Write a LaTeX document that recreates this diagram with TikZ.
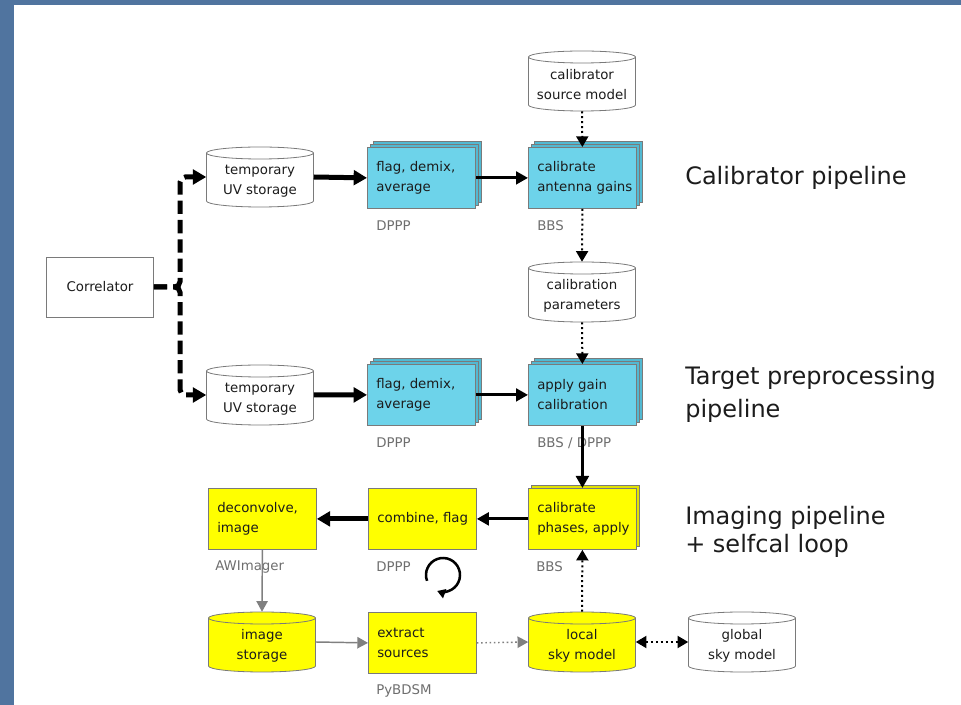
\documentclass[tikz,border=0pt]{standalone}
\usepackage{fontspec}
\setmainfont{DejaVu Sans}
\usetikzlibrary{arrows.meta,calc}

\definecolor{frameblue}{HTML}{50749F}
\definecolor{boxcyan}{HTML}{6DD3EA}
\definecolor{backcyan}{HTML}{52B9D2}
\definecolor{boxyellow}{HTML}{FFFF00}
\definecolor{backyellow}{HTML}{E2E200}
\definecolor{edgegray}{HTML}{7A7A7A}
\definecolor{labelgray}{HTML}{6E6E6E}
\definecolor{arrowgray}{HTML}{808080}
\definecolor{txt}{HTML}{1C1C1C}

\tikzset{
  boxshape/.style={draw=edgegray, line width=0.6pt, minimum width=81pt, minimum height=45.75pt, inner sep=0pt},
  layer/.style={draw=edgegray, line width=0.5pt},
  boxtext/.style={inner sep=0pt, align=left, text=txt, font=\fontsize{10}{15}\selectfont},
  cylline/.style={draw=edgegray, line width=0.6pt},
  cylbox/.style={minimum width=80.25pt, minimum height=45pt, inner sep=0pt},
  cyltext/.style={inner sep=0pt, align=center, text=txt, font=\fontsize{10}{15}\selectfont},
  toollabel/.style={inner sep=0pt, anchor=west, text=labelgray, font=\fontsize{10}{12}\selectfont},
  pipelabel/.style={inner sep=0pt, anchor=west, align=left, text=txt},
  thickarrow/.style={line width=3.75pt, -{Triangle[length=10pt,width=11pt]}},
  medarrow/.style={line width=2.2pt, -{Triangle[length=9pt,width=9.5pt]}},
  dotarrow/.style={line width=1.5pt, dash pattern=on 1.5pt off 2.2pt, -{Triangle[length=8pt,width=9pt]}},
  grayarrow/.style={line width=1.1pt, draw=arrowgray, -{Triangle[length=8pt,width=8.5pt,fill=arrowgray]}},
  graydot/.style={line width=1.1pt, draw=arrowgray, dash pattern=on 1.2pt off 2pt, -{Triangle[length=8pt,width=8.5pt,fill=arrowgray]}},
  dashflow/.style={line width=3.75pt, dash pattern=on 10pt off 4.5pt, rounded corners=4pt, -{Triangle[length=10pt,width=11pt]}},
  loopstyle/.style={line width=1.9pt, -{Triangle[length=6pt,width=7pt]}},
}

% #1 name, #2 left x, #3 top y, #4 fill, #5 back fill, #6 layers, #7 text
\newcommand\procbox[7]{%
  \ifnum#6>1 \filldraw[layer, fill=#5] (#2+6,#3-6) rectangle ++(108,61);\fi
  \ifnum#6>0 \filldraw[layer, fill=#5] (#2+3,#3-3) rectangle ++(108,61);\fi
  \node[boxshape, fill=#4, anchor=north west] (#1) at (#2,#3) {};
  \node[boxtext, anchor=west] (#1-t) at ($(#1.west)+(9,0)$) {#7};
}
% #1 name, #2 cx, #3 cy, #4 fill, #5 text
\newcommand\dbcyl[5]{%
  \filldraw[cylline, fill=#4] (#2-53.5,#3-24) -- (#2-53.5,#3+24)
     arc[start angle=180,end angle=0,x radius=53.5,y radius=6]
     -- (#2+53.5,#3-24)
     arc[start angle=0,end angle=-180,x radius=53.5,y radius=6] -- cycle;
  \draw[cylline] (#2-53.5,#3-24) arc[start angle=180,end angle=0,x radius=53.5,y radius=6];
  \node[cylbox] (#1) at (#2,#3) {};
  \node[cyltext] (#1-t) at (#2,#3+4) {#5};
}

\begin{document}
\begin{tikzpicture}[x=0.75pt,y=-0.75pt]
\useasboundingbox (0,0) rectangle (961,705);
\fill[frameblue] (0,0) rectangle (961,705);
\fill[white] (14,5) rectangle (961,705);

% correlator
\node[boxshape, fill=white, minimum width=80.25pt, minimum height=45pt, text=txt,
      font=\fontsize{10}{12}\selectfont] (corr) at (100,287) {Correlator};

% storage
\dbcyl{csm}{582}{81}{white}{calibrator\\source model}
\dbcyl{tmpA}{260}{177}{white}{temporary\\UV storage}
\dbcyl{calpar}{582}{292}{white}{calibration\\parameters}
\dbcyl{tmpB}{260}{395}{white}{temporary\\UV storage}
\dbcyl{imgsto}{262}{642}{boxyellow}{image\\storage}
\dbcyl{local}{582}{642}{boxyellow}{local\\sky model}
\dbcyl{global}{742}{642}{white}{global\\sky model}

% processing boxes
\procbox{flagA}{367}{147}{boxcyan}{backcyan}{2}{flag, demix,\\average}
\procbox{calA}{528}{147}{boxcyan}{backcyan}{2}{calibrate\\antenna gains}
\procbox{flagB}{367}{364}{boxcyan}{backcyan}{2}{flag, demix,\\average}
\procbox{applyB}{528}{364}{boxcyan}{backcyan}{2}{apply gain\\calibration}
\procbox{decon}{208}{488}{boxyellow}{backyellow}{0}{deconvolve,\\image}
\procbox{combine}{368}{488}{boxyellow}{backyellow}{0}{combine, flag}
\procbox{phase}{528}{488}{boxyellow}{backyellow}{1}{calibrate\\phases, apply}
\procbox{extract}{368}{612}{boxyellow}{backyellow}{0}{extract\\sources}

% tool labels
\node[toollabel] (lDA) at ($(flagA.south west)+(9,17)$) {DPPP};
\node[toollabel] (lBA) at ($(calA.south west)+(9,17)$) {BBS};
\node[toollabel] (lDB) at ($(flagB.south west)+(9,17)$) {DPPP};
\node[toollabel] (lBB) at ($(applyB.south west)+(9,17)$) {BBS / DPPP};
\node[toollabel] (lAW) at ($(decon.south west)+(7,17)$) {AWImager};
\node[toollabel] (lDC) at ($(combine.south west)+(8,17)$) {DPPP};
\node[toollabel] (lBC) at ($(phase.south west)+(8,17)$) {BBS};
\node[toollabel] (lPy) at ($(extract.south west)+(8,17)$) {PyBDSM};

% pipeline labels
\node[pipelabel, font=\fontsize{18}{24}\selectfont] (pcal) at (685,178) {Calibrator pipeline};
\node[pipelabel, font=\fontsize{18}{24.75}\selectfont] (ptgt) at (685,394) {Target preprocessing\\pipeline};
\node[pipelabel, font=\fontsize{18}{21.5}\selectfont] (pimg) at (685,532) {Imaging pipeline\\+ selfcal loop};

% connectors
\coordinate (split) at (180,287);
\draw[dashflow] (corr.east) -- (split) |- (tmpA.west);
\draw[dashflow] (corr.east) -- (split) |- (tmpB.west);

\draw[thickarrow] (tmpA.east) -- (flagA.west);
\draw[medarrow] (flagA.east) -- (calA.west);
\draw[dotarrow] (csm.south) -- (calA.north);
\draw[dotarrow] (calA.south) -- (calpar.north);
\draw[dotarrow] (calpar.south) -- (applyB.north);
\draw[thickarrow] (tmpB.east) -- (flagB.west);
\draw[medarrow] (flagB.east) -- (applyB.west);
\draw[medarrow] (applyB.south) -- (phase.north);
\draw[medarrow] (phase.west) -- (combine.east);
\draw[thickarrow] (combine.west) -- (decon.east);
\draw[grayarrow] (decon.south) -- (imgsto.north);
\draw[grayarrow] (imgsto.east) -- (extract.west);
\draw[graydot] (extract.east) -- (local.west);
\draw[dotarrow] (local.north) -- (phase.south);
\draw[dotarrow, {Triangle[length=8pt,width=9pt]}-{Triangle[length=8pt,width=9pt]}] (local.east) -- (global.west);

% selfcal loop symbol
\coordinate (loopc) at (443,575);
\draw[loopstyle] (loopc) ++(-200:17) arc[start angle=-200,end angle=110,radius=17];
\end{tikzpicture}
\end{document}
